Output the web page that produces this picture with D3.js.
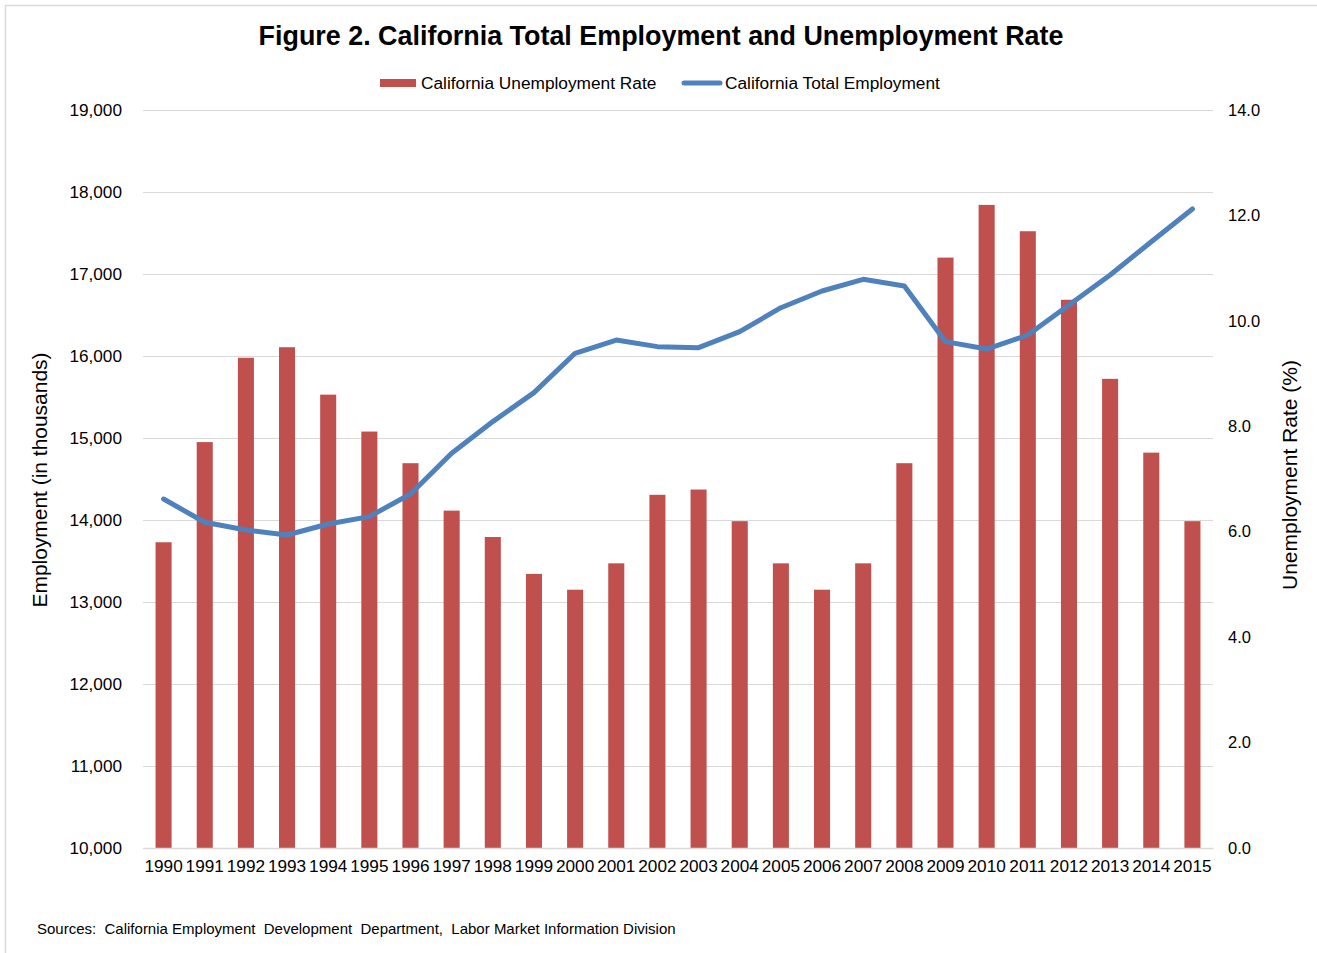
<!DOCTYPE html>
<html>
<head>
<meta charset="utf-8">
<script src="https://cdn.jsdelivr.net/npm/d3@7"></script>
<style>
  html, body { margin: 0; padding: 0; background: #fff; }
  svg text { font-family: "Liberation Sans", Arial, Helvetica, sans-serif; fill: #000; }
</style>
</head>
<body>
<svg id="chart" width="1317" height="953"></svg>
<script>
// Annual figures, 1990-2015
const years = ["1990","1991","1992","1993","1994","1995","1996","1997","1998","1999",
               "2000","2001","2002","2003","2004","2005","2006","2007","2008","2009",
               "2010","2011","2012","2013","2014","2015"];
// Unemployment rate (%)
const unemploymentRate = [5.8, 7.7, 9.3, 9.5, 8.6, 7.9, 7.3, 6.4, 5.9, 5.2,
                          4.9, 5.4, 6.7, 6.8, 6.2, 5.4, 4.9, 5.4, 7.3, 11.2,
                          12.2, 11.7, 10.4, 8.9, 7.5, 6.2];
// Total employment (thousands)
const totalEmployment = [14256, 13972, 13878, 13817, 13951, 14041, 14317, 14813, 15200, 15553,
                         16033, 16195, 16114, 16102, 16297, 16589, 16793, 16935, 16854, 16175,
                         16085, 16256, 16622, 16988, 17394, 17793];
const employmentTicks = [10000, 11000, 12000, 13000, 14000, 15000, 16000, 17000, 18000, 19000];
const rateTicks = [0, 2, 4, 6, 8, 10, 12, 14];

const seriesNames = ["California Unemployment Rate", "California Total Employment"];
const barColor = "#c0504d";
const lineColor = "#4f81bd";
const gridColor = "#d9d9d9";
const fontStack = "'Liberation Sans', Arial, sans-serif";

const svg = d3.select("#chart");
const plot = { left: 143, right: 1213, top: 110, bottom: 848 };

// outer frame of the chart area
svg.append("rect")
  .attr("x", 5.5).attr("y", 5.5)
  .attr("width", 1330).attr("height", 970)
  .attr("fill", "none").attr("stroke", "#d9d9d9").attr("stroke-width", 1.5);

const x = d3.scaleBand().domain(years).range([plot.left, plot.right]).paddingInner(0.61).paddingOuter(0.305);
const xc = d3.scaleBand().domain(years).range([plot.left, plot.right]);
const yLeft = d3.scaleLinear().domain([10000, 19000]).range([plot.bottom, plot.top]);
const yRight = d3.scaleLinear().domain([0, 14]).range([plot.bottom, plot.top]);

// horizontal gridlines on the employment axis
svg.append("g")
  .selectAll("line")
  .data(employmentTicks)
  .join("line")
  .attr("x1", plot.left).attr("x2", plot.right)
  .attr("y1", d => Math.round(yLeft(d)) + 0.5)
  .attr("y2", d => Math.round(yLeft(d)) + 0.5)
  .attr("stroke", gridColor).attr("stroke-width", 1);

// left axis
const leftAxis = svg.append("g")
  .attr("transform", `translate(${plot.left},0)`)
  .call(d3.axisLeft(yLeft).tickValues(employmentTicks).tickFormat(d3.format(",")).tickSize(0).tickPadding(21));
leftAxis.select(".domain").remove();
leftAxis.selectAll("text").attr("font-size", 17.2).style("font-family", fontStack);

// right axis
const rightAxis = svg.append("g")
  .attr("transform", `translate(${plot.right},0)`)
  .call(d3.axisRight(yRight).tickValues(rateTicks).tickFormat(d3.format(".1f")).tickSize(0).tickPadding(15));
rightAxis.select(".domain").remove();
rightAxis.selectAll("text").attr("font-size", 16.5).style("font-family", fontStack);

// bars: unemployment rate
svg.append("g")
  .selectAll("rect")
  .data(years.map((yr, i) => ({ yr, v: unemploymentRate[i] })))
  .join("rect")
  .attr("x", d => x(d.yr))
  .attr("width", x.bandwidth())
  .attr("y", d => yRight(d.v))
  .attr("height", d => yRight(0) - yRight(d.v))
  .attr("fill", barColor);

// bottom axis
const bottomAxis = svg.append("g")
  .attr("transform", `translate(0,${plot.bottom})`)
  .call(d3.axisBottom(xc).tickSize(0).tickPadding(12));
bottomAxis.select(".domain").attr("stroke", gridColor).attr("stroke-width", 1.5);
bottomAxis.selectAll("text").attr("font-size", 17.2).attr("dy", "0.7em").style("font-family", fontStack);

// line: total employment
const line = d3.line()
  .x((d, i) => xc(years[i]) + xc.bandwidth() / 2)
  .y(d => yLeft(d));
svg.append("path")
  .datum(totalEmployment)
  .attr("d", line)
  .attr("fill", "none")
  .attr("stroke", lineColor)
  .attr("stroke-width", 5)
  .attr("stroke-linejoin", "round")
  .attr("stroke-linecap", "round");

// title
svg.append("text")
  .attr("x", 661).attr("y", 45)
  .attr("text-anchor", "middle")
  .attr("font-size", 26.9).attr("font-weight", "bold")
  .text("Figure 2. California Total Employment and Unemployment Rate");

// legend
const legend = svg.append("g");
legend.append("rect").attr("x", 380).attr("y", 79).attr("width", 36).attr("height", 8).attr("fill", barColor);
legend.append("text").attr("x", 421).attr("y", 89).attr("font-size", 17.3).text(seriesNames[0]);
legend.append("line").attr("x1", 684).attr("x2", 720).attr("y1", 83).attr("y2", 83)
  .attr("stroke", lineColor).attr("stroke-width", 5).attr("stroke-linecap", "round");
legend.append("text").attr("x", 725).attr("y", 89).attr("font-size", 17.3).text(seriesNames[1]);

// axis titles
svg.append("text")
  .attr("transform", "translate(47,480) rotate(-90)")
  .attr("text-anchor", "middle")
  .attr("font-size", 20)
  .attr("textLength", 255).attr("lengthAdjust", "spacingAndGlyphs")
  .text("Employment  (in thousands)");
svg.append("text")
  .attr("transform", "translate(1297,475) rotate(-90)")
  .attr("text-anchor", "middle")
  .attr("font-size", 20)
  .attr("textLength", 230).attr("lengthAdjust", "spacingAndGlyphs")
  .text("Unemployment  Rate (%)");

// source note
svg.append("text")
  .attr("x", 37).attr("y", 934)
  .attr("font-size", 15)
  .style("white-space", "pre")
  .text("Sources:  California Employment  Development  Department,  Labor Market Information Division");
</script>
</body>
</html>
